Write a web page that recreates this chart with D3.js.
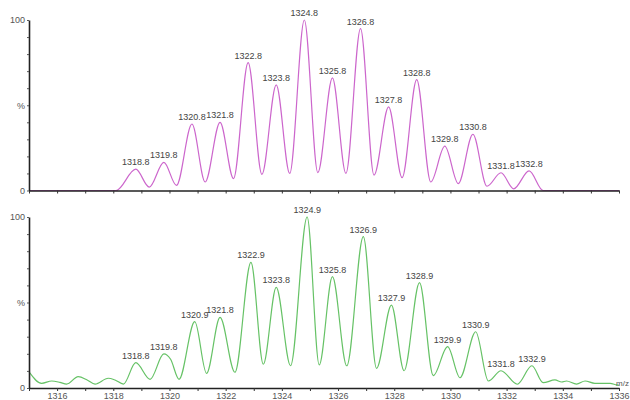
<!DOCTYPE html>
<html>
<head>
<meta charset="utf-8">
<script src="https://cdn.jsdelivr.net/npm/d3@7"></script>
<style>
  html, body { margin: 0; padding: 0; background: #fff; }
  svg { display: block; }
</style>
</head>
<body>
<div id="chart"></div>
<script>
// peak labels and intensities (% of base peak)
const topPeakMz = [1318.8, 1319.8, 1320.8, 1321.8, 1322.8, 1323.8, 1324.8, 1325.8, 1326.8, 1327.8, 1328.8, 1329.8, 1330.8, 1331.8, 1332.8];
const topPeakInt = [12.5, 16.5, 39, 40, 75, 62, 100, 66, 95, 49, 65, 26, 33, 10.4, 11.5];
// baseline and valley points between the peaks
const topValleys = [
  [1315, 0], [1318.1, 0], [1319.28, 2], [1320.25, 3], [1321.27, 5], [1322.28, 7],
  [1323.29, 9.5], [1324.28, 10], [1325.28, 10.5], [1326.28, 10], [1327.28, 9],
  [1328.28, 7.5], [1329.3, 5], [1330.28, 4], [1331.3, 2.5], [1332.25, 1],
  [1333.3, 0], [1336, 0],
];

const bottomPeakMz = [1318.8, 1319.8, 1320.9, 1321.8, 1322.9, 1323.8, 1324.9, 1325.8, 1326.9, 1327.9, 1328.9, 1329.9, 1330.9, 1331.8, 1332.9];
const bottomPeakInt = [14.8, 19.9, 38.8, 41.3, 73.5, 58.9, 100, 65.1, 88.5, 48.5, 61.6, 24.2, 32.9, 10.1, 13];
const bottomValleys = [
  [1315, 9.5], [1315.45, 2.7], [1315.81, 4.1], [1316.1, 3.3], [1316.34, 2.3],
  [1316.75, 6.6], [1317.07, 4.7], [1317.35, 2.3], [1317.82, 5.7], [1318.06, 4.7],
  [1318.36, 2.3], [1319.31, 5.1], [1320.04, 16.8], [1320.34, 5.1], [1321.32, 8.6],
  [1322.33, 9.2], [1323.34, 13.9], [1324.31, 13], [1325.33, 13.5], [1326.31, 13],
  [1327.37, 11.5], [1328.35, 10.1], [1329.39, 7.2], [1330.34, 6], [1331.35, 4.1],
  [1332.38, 2.2], [1333.3, 3.1], [1333.72, 4.7], [1333.96, 3.5], [1334.13, 4.1],
  [1334.49, 2.3], [1334.79, 4.1], [1335.14, 2.7], [1335.68, 2.7], [1335.91, 1.8],
  [1336, 1.5],
];

const xTicks = d3.range(1315, 1337);
const xTickLabels = [1316, 1318, 1320, 1322, 1324, 1326, 1328, 1330, 1332, 1334, 1336];
const yTicks = d3.range(0, 101, 10);
const yTickLabels = { 0: '0', 50: '%', 100: '100' };

const width = 630;
const height = 400;
const font = "'Liberation Sans', Arial, sans-serif";

const svg = d3.select('#chart')
  .append('svg')
  .attr('width', width)
  .attr('height', height);

svg.append('rect').attr('width', width).attr('height', height).attr('fill', '#fff');

const x = d3.scaleLinear([1315, 1336], [29, 619]);

const panels = [
  { peaks: topPeakMz, ints: topPeakInt, valleys: topValleys, y0: 190.5, y1: 20, color: '#cc66cc', labels: false },
  { peaks: bottomPeakMz, ints: bottomPeakInt, valleys: bottomValleys, y0: 388, y1: 217, color: '#66c266', labels: true },
];

panels.forEach((p) => {
  const y = d3.scaleLinear([0, 100], [p.y0, p.y1]);
  const g = svg.append('g');

  const profile = p.valleys
    .concat(p.peaks.map((m, i) => [m, p.ints[i]]))
    .sort((a, b) => a[0] - b[0]);

  const line = d3.line()
    .x((d) => x(d[0]))
    .y((d) => y(d[1]))
    .curve(d3.curveMonotoneX);

  g.append('path')
    .datum(profile)
    .attr('fill', 'none')
    .attr('stroke', p.color)
    .attr('stroke-width', 1.2)
    .attr('d', line);

  g.selectAll('text.peak')
    .data(p.peaks)
    .join('text')
    .attr('class', 'peak')
    .attr('x', (d) => x(d))
    .attr('y', (d, i) => y(p.ints[i]) - 4)
    .attr('text-anchor', 'middle')
    .attr('font-family', font)
    .attr('font-size', 9)
    .attr('fill', '#444')
    .text((d) => d.toFixed(1));

  const xAxis = g.append('g')
    .attr('transform', `translate(0,${p.y0})`)
    .call(d3.axisBottom(x)
      .tickValues(xTicks)
      .tickSize(3)
      .tickSizeOuter(0)
      .tickPadding(2)
      .tickFormat((d) => (p.labels && xTickLabels.includes(d) ? d : '')));
  xAxis.select('.domain').attr('stroke', '#222').attr('stroke-width', 1.6);
  xAxis.selectAll('.tick line').attr('stroke', '#333');
  xAxis.selectAll('text').attr('font-family', font).attr('font-size', 9).attr('fill', '#555');

  const yAxis = g.append('g')
    .attr('transform', 'translate(29,0)')
    .call(d3.axisLeft(y)
      .tickValues(yTicks)
      .tickSize(2)
      .tickSizeOuter(0)
      .tickPadding(2)
      .tickFormat((d) => yTickLabels[d] || ''));
  yAxis.select('.domain').attr('stroke', '#222').attr('stroke-width', 1.6);
  yAxis.selectAll('.tick line').attr('stroke', '#555');
  yAxis.selectAll('text').attr('font-family', font).attr('font-size', 9).attr('fill', '#555');

  if (p.labels) {
    // axis title, kept inside the right edge
    g.append('text')
      .attr('x', 629)
      .attr('y', p.y0 - 2)
      .attr('text-anchor', 'end')
      .attr('font-family', font)
      .attr('font-size', 8)
      .attr('fill', '#555')
      .text('m/z');
  }
});
</script>
</body>
</html>
